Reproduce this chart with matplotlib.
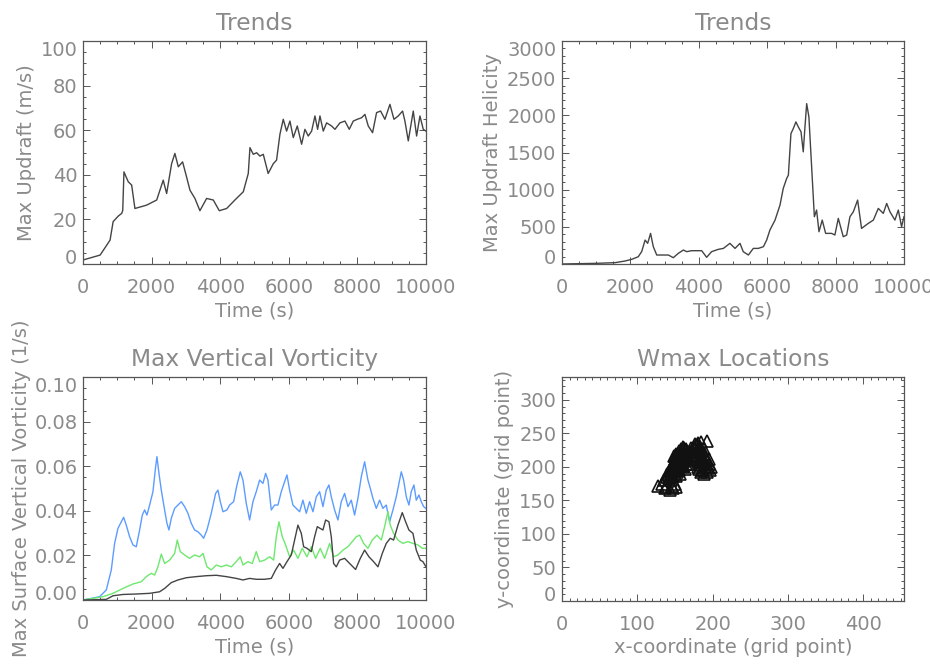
import matplotlib
matplotlib.use('Agg')
import matplotlib.pyplot as plt
from matplotlib.ticker import MultipleLocator, FormatStrFormatter

# ---- data ----
# max updraft (m/s)
w_time = [0, 500, 600, 790, 880, 1030, 1130, 1160, 1195, 1320, 1420, 1515, 1856, 2150,
          2340, 2440, 2585, 2680, 2780, 2905, 3020, 3120, 3265, 3410, 3605, 3800, 3975,
          4190, 4430, 4675, 4820, 4869, 4966, 5063, 5160, 5257, 5400, 5550, 5645, 5743,
          5840, 5937, 6035, 6132, 6249, 6375, 6472, 6569, 6667, 6764, 6842, 6910, 7007,
          7104, 7249, 7347, 7492, 7638, 7764, 7881, 7998, 8124, 8221, 8318, 8444, 8561,
          8678, 8804, 8950, 9067, 9193, 9319, 9387, 9485, 9630, 9728, 9825, 9922, 10000]
w_max = [1.8, 4.0, 6.3, 10.7, 19.0, 21.5, 22.7, 24.0, 41.3, 36.9, 35.4, 24.9, 26.4, 28.7,
         37.6, 31.6, 45.0, 49.6, 43.6, 45.8, 39.1, 33.1, 29.4, 23.9, 29.4, 28.7, 23.9,
         24.9, 28.7, 32.4, 40.6, 52.2, 49.2, 49.9, 48.4, 49.2, 40.6, 45.0, 46.6, 58.2,
         64.9, 59.6, 64.1, 56.7, 61.9, 53.7, 60.4, 57.4, 59.6, 66.4, 60.4, 66.4, 59.6,
         63.3, 61.9, 60.4, 63.3, 64.1, 60.4, 64.1, 64.9, 65.6, 67.1, 61.9, 58.9, 67.9,
         68.6, 64.9, 71.6, 64.9, 66.4, 68.6, 64.1, 55.2, 68.6, 57.4, 66.4, 60.4, 59.6]

# max updraft helicity
uh_time = [0, 1000, 1550, 1840, 2040, 2230, 2330, 2430, 2505, 2590, 2670, 2770, 2915, 3110,
           3255, 3400, 3550, 3645, 3790, 4085, 4230, 4375, 4570, 4720, 4910, 5060, 5205,
           5300, 5450, 5595, 5740, 5890, 5985, 6080, 6230, 6375, 6470, 6570, 6620, 6695,
           6765, 6840, 6910, 6990, 7055, 7105, 7155, 7220, 7300, 7380, 7445, 7515, 7610,
           7710, 7885, 7980, 8080, 8225, 8325, 8420, 8520, 8645, 8760, 8955, 9105, 9250,
           9395, 9495, 9590, 9735, 9835, 9930, 10000]
uh_max = [0, 9, 18, 40, 63, 98, 166, 322, 278, 412, 233, 121, 121, 121,
          85, 143, 188, 166, 179, 179, 90, 166, 197, 210, 278, 210, 278,
          166, 121, 210, 210, 233, 322, 457, 591, 793, 1017, 1151, 1196, 1755,
          1823, 1912, 1845, 1778, 1509, 1845, 2158, 1979, 1308, 636, 726, 434, 591,
          412, 412, 390, 614, 367, 390, 636, 703, 860, 479, 546, 591, 748,
          681, 815, 703, 591, 726, 502, 636]

# max surface vertical vorticity (1/s), three series
vb_time = [0, 486, 680, 826, 923, 1020, 1118, 1186, 1263, 1360, 1458, 1555, 1652, 1730,
           1798, 1866, 1944, 2041, 2119, 2157, 2216, 2284, 2381, 2449, 2507, 2575, 2673,
           2770, 2867, 2964, 3061, 3158, 3256, 3353, 3450, 3518, 3615, 3741, 3868, 3936,
           4004, 4082, 4198, 4276, 4393, 4490, 4587, 4665, 4762, 4859, 4956, 5053, 5151,
           5248, 5326, 5394, 5491, 5588, 5685, 5782, 5880, 5948, 6025, 6122, 6220, 6317,
           6414, 6511, 6608, 6706, 6803, 6900, 6997, 7094, 7172, 7240, 7337, 7434, 7532,
           7629, 7726, 7823, 7920, 8017, 8115, 8212, 8309, 8377, 8455, 8552, 8649, 8746,
           8843, 8941, 9038, 9135, 9213, 9281, 9349, 9427, 9504, 9572, 9650, 9718, 9796,
           9864, 9932, 10000]
vb_blue = [0.0, 0.0015, 0.0045, 0.0135, 0.0254, 0.0321, 0.0351, 0.0371, 0.0336, 0.0284,
           0.0247, 0.0239, 0.0314, 0.0381, 0.0404, 0.0381, 0.0426, 0.0486, 0.0598, 0.0643,
           0.0568, 0.0493, 0.0404, 0.0344, 0.0314, 0.0366, 0.0411, 0.0426, 0.0441, 0.0419,
           0.0389, 0.0344, 0.0314, 0.0306, 0.0291, 0.0277, 0.0314, 0.0389, 0.0478, 0.0493,
           0.0441, 0.0396, 0.0404, 0.0426, 0.0441, 0.0516, 0.0575, 0.0538, 0.0433, 0.0359,
           0.0441, 0.0486, 0.0538, 0.0523, 0.0568, 0.0538, 0.0404, 0.0426, 0.0426, 0.0486,
           0.0531, 0.0561, 0.0493, 0.0426, 0.0411, 0.0396, 0.0448, 0.0389, 0.0441, 0.0396,
           0.0463, 0.0486, 0.0419, 0.0493, 0.0516, 0.0463, 0.0404, 0.0359, 0.0441, 0.0478,
           0.0419, 0.0448, 0.0381, 0.0456, 0.0553, 0.0620, 0.0538, 0.0501, 0.0456, 0.0411,
           0.0448, 0.0411, 0.0426, 0.0351, 0.0404, 0.0463, 0.0523, 0.0575, 0.0538, 0.0463,
           0.0426, 0.0486, 0.0516, 0.0448, 0.0471, 0.0441, 0.0419, 0.0411]

vg_time = [0, 583, 875, 1166, 1458, 1701, 1847, 1992, 2089, 2187, 2284, 2381, 2527, 2673,
           2750, 2838, 2964, 3110, 3256, 3401, 3499, 3615, 3741, 3887, 4033, 4179, 4325,
           4470, 4587, 4665, 4810, 4937, 5053, 5151, 5296, 5442, 5559, 5637, 5714, 5811,
           5909, 6025, 6142, 6268, 6395, 6531, 6657, 6783, 6919, 7046, 7191, 7308, 7434,
           7580, 7726, 7852, 7969, 8066, 8183, 8309, 8435, 8571, 8698, 8795, 8892, 8960,
           9057, 9184, 9329, 9475, 9621, 9767, 9893, 10000]
vg_green = [0.0, 0.0015, 0.003, 0.0052, 0.0072, 0.0082, 0.0105, 0.012, 0.0112, 0.0149,
            0.0206, 0.0164, 0.0179, 0.0209, 0.0269, 0.0217, 0.0202, 0.0187, 0.0202, 0.0194,
            0.0209, 0.0149, 0.0135, 0.0157, 0.0149, 0.0157, 0.0149, 0.0172, 0.0194, 0.0157,
            0.0172, 0.0164, 0.0217, 0.0172, 0.0179, 0.0194, 0.0179, 0.0284, 0.0351, 0.0284,
            0.0247, 0.0194, 0.0224, 0.0187, 0.0232, 0.0194, 0.0239, 0.0187, 0.0232, 0.0187,
            0.0254, 0.0194, 0.0202, 0.0224, 0.0239, 0.0262, 0.0284, 0.0291, 0.0254, 0.0232,
            0.0269, 0.0291, 0.0269, 0.0329, 0.0396, 0.0336, 0.0299, 0.0269, 0.0254, 0.0262,
            0.0254, 0.0247, 0.0232, 0.0232]

vk_time = [0, 680, 875, 1166, 1555, 1944, 2235, 2381, 2575, 2770, 3013, 3304, 3596, 3887,
           4179, 4470, 4665, 4859, 5053, 5296, 5491, 5617, 5734, 5831, 5948, 6074, 6171,
           6268, 6366, 6434, 6531, 6657, 6754, 6832, 6919, 6997, 7075, 7172, 7240, 7308,
           7386, 7483, 7629, 7775, 7949, 8086, 8212, 8338, 8474, 8601, 8727, 8843, 8960,
           9057, 9184, 9310, 9407, 9504, 9621, 9718, 9835, 9913, 10000]
vk_black = [0.0, 0.0003, 0.0019, 0.0025, 0.0027, 0.003, 0.0037, 0.0052, 0.0078, 0.009,
            0.01, 0.0105, 0.0109, 0.0111, 0.0105, 0.0097, 0.009, 0.0097, 0.0093, 0.0093,
            0.0097, 0.0135, 0.0164, 0.0142, 0.0172, 0.0202, 0.0269, 0.0336, 0.0299, 0.0239,
            0.0232, 0.0217, 0.0284, 0.0329, 0.0321, 0.0314, 0.0359, 0.0351, 0.0284, 0.0164,
            0.0149, 0.0179, 0.0187, 0.0164, 0.0137, 0.0187, 0.0224, 0.0194, 0.0172, 0.0149,
            0.0209, 0.0254, 0.0277, 0.0269, 0.0336, 0.0392, 0.0351, 0.0314, 0.0299, 0.0224,
            0.0179, 0.0172, 0.0149]

# wmax locations (grid points)
loc_x = [128, 133, 138, 143, 148, 150, 145, 140, 135, 152, 137, 146,
         140, 143, 145, 147, 150, 152, 155, 158, 160, 148, 152, 155, 158, 160, 162,
         163, 165, 160, 155, 150, 145, 157, 163, 167, 165, 168, 170, 142, 147, 153,
         157, 162, 166, 150, 156, 161, 152, 159, 164, 168,
         172, 175, 178, 181, 184, 180, 185, 188, 190, 192, 195, 198, 196, 192, 188,
         185, 182, 180, 185, 190, 188, 183, 178, 175, 193, 177, 182, 187, 191, 186,
         181, 194, 189, 184, 179, 174,
         144, 146, 149, 151, 154, 156, 159, 161, 164, 147, 150, 153, 156, 159, 162,
         149, 152, 155, 158, 161, 164, 166, 154, 157, 160, 163, 171, 176, 179, 183,
         186, 189, 192, 187, 184, 181, 190, 195, 180, 177]
loc_y = [172, 175, 170, 166, 168, 175, 180, 185, 180, 170, 168, 172,
         190, 195, 200, 205, 210, 215, 218, 222, 225, 198, 203, 208, 212, 215, 220,
         210, 205, 200, 195, 190, 188, 190, 197, 215, 225, 222, 210, 183, 186, 193,
         203, 228, 218, 217, 214, 207, 186, 201, 213, 205,
         225, 230, 232, 235, 237, 228, 225, 220, 215, 210, 205, 200, 195, 192, 190,
         193, 197, 200, 205, 200, 210, 215, 220, 218, 238, 226, 230, 207, 204, 196,
         222, 198, 226, 210, 233, 222,
         192, 197, 194, 199, 196, 201, 205, 209, 213, 204, 207, 211, 214, 218, 221,
         216, 220, 223, 226, 229, 226, 219, 199, 207, 212, 218, 228, 234, 224, 230,
         214, 207, 201, 196, 203, 208, 218, 212, 216, 212]

txt = '#8a8a8a'
edge = '#555555'
plt.rcParams['font.family'] = 'DejaVu Sans'
plt.rcParams['font.size'] = 14

fig = plt.figure(figsize=(9.3, 6.65), dpi=100)


def style(ax, xticks, xmin, yticks, ymin, fmt=None):
    ax.set_xticks(xticks)
    ax.set_yticks(yticks)
    ax.xaxis.set_minor_locator(MultipleLocator(xmin))
    ax.yaxis.set_minor_locator(MultipleLocator(ymin))
    if fmt:
        ax.yaxis.set_major_formatter(FormatStrFormatter(fmt))
    ax.tick_params(which='both', direction='in', top=True, right=True,
                   color=edge, labelcolor=txt, width=0.7)
    ax.tick_params(which='major', length=5)
    ax.tick_params(which='minor', length=2.5)
    ax.tick_params(axis='x', which='major', pad=10)
    ax.tick_params(axis='y', which='major', pad=4)
    for s in ax.spines.values():
        s.set_color(edge)
        s.set_linewidth(0.9)


def end_labels(ax, top=True):
    # first / last y labels kept inside the box like the reference
    labs = ax.get_yticklabels()
    labs[0].set_verticalalignment('baseline')
    if top:
        labs[-1].set_verticalalignment('top')


tticks = [0, 2000, 4000, 6000, 8000, 10000]

# top left: max updraft
ax1 = fig.add_axes([0.0892, 0.6030, 0.3688, 0.3353])
ax1.plot(w_time, w_max, color='#444444', lw=1.0)
style(ax1, tticks, 500, [0, 20, 40, 60, 80, 100], 5)
ax1.set_xlim(0, 10000)
ax1.set_ylim(0, 100)
ax1.set_title('Trends', color=txt, pad=8)
ax1.set_xlabel('Time (s)', color=txt, labelpad=3)
ax1.set_ylabel('Max Updraft (m/s)', color=txt, labelpad=3)
end_labels(ax1)

# top right: max updraft helicity
ax2 = fig.add_axes([0.6043, 0.6030, 0.3677, 0.3353])
ax2.plot(uh_time, uh_max, color='#444444', lw=1.0)
style(ax2, tticks, 500, [0, 500, 1000, 1500, 2000, 2500, 3000], 100)
ax2.set_xlim(0, 10000)
ax2.set_ylim(0, 3000)
ax2.set_title('Trends', color=txt, pad=8)
ax2.set_xlabel('Time (s)', color=txt, labelpad=3)
ax2.set_ylabel('Max Updraft Helicity', color=txt, labelpad=3.5)
end_labels(ax2)

# bottom left: vertical vorticity
ax3 = fig.add_axes([0.0892, 0.0977, 0.3688, 0.3353])
ax3.plot(vb_time, vb_blue, color='#5c9cff', lw=1.0)
ax3.plot(vg_time, vg_green, color='#6ee86e', lw=1.0)
ax3.plot(vk_time, vk_black, color='#444444', lw=1.0)
style(ax3, tticks, 500, [0, 0.02, 0.04, 0.06, 0.08, 0.1], 0.005, '%.2f')
ax3.set_xlim(0, 10000)
ax3.set_ylim(0, 0.1)
ax3.set_title('Max Vertical Vorticity', color=txt, pad=8)
ax3.set_xlabel('Time (s)', color=txt, labelpad=3)
ax3.set_ylabel('Max Surface Vertical Vorticity (1/s)', color=txt, labelpad=2)
end_labels(ax3)

# bottom right: wmax locations
ax4 = fig.add_axes([0.6043, 0.0962, 0.3677, 0.3368])
ax4.plot(loc_x, loc_y, ls='none', marker='^', ms=8, mfc='none', mec='#111111', mew=1.2)
style(ax4, [0, 100, 200, 300, 400], 10, [0, 50, 100, 150, 200, 250, 300], 10)
ax4.set_xlim(0, 454)
ax4.set_ylim(0, 334)
ax4.set_title('Wmax Locations', color=txt, pad=8)
ax4.set_xlabel('x-coordinate (grid point)', color=txt, labelpad=3)
ax4.set_ylabel('y-coordinate (grid point)', color=txt, labelpad=4)
end_labels(ax4, top=False)

fig.savefig('out.png', dpi=100)
